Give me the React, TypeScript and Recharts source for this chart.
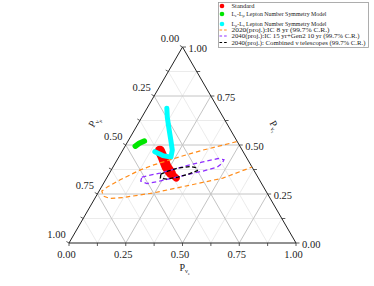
import React from 'react'
import { ScatterChart, Scatter, XAxis, YAxis, ReferenceLine, Legend } from 'recharts'

// ternary points are [P_νe, P_ντ]; P_νμ = 1 - P_νe - P_ντ
type Pt = [number, number]

const tickValues = [0, 0.25, 0.5, 0.75, 1]
const tickLabels = ['0.00', '0.25', '0.50', '0.75', '1.00']
const minorValues = [0.125, 0.375, 0.625, 0.875]

const seriesNames = [
  'Standard',
  'L_e-L_μ Lepton Number Symmetry Model',
  'L_μ-L_τ Lepton Number Symmetry Model',
  '2020(proj.):IC 8 yr (99.7% C.R.)',
  '2040(proj.):IC 15 yr+Gen2 10 yr (99.7% C.R.)',
  '2040(proj.): Combined ν telescopes (99.7% C.R.)',
]
const seriesColors = ['#ff0000', '#00e600', '#00ffff', '#ff8c1a', '#8f2fff', '#000000']

const standard: Pt[] = [[0.165, 0.471], [0.194, 0.438], [0.234, 0.39], [0.27, 0.357]]
const standardTail: Pt[] = [[0.27, 0.357], [0.307, 0.331]]
const leLmu: Pt[] = [[0.045, 0.494], [0.055, 0.509], [0.072, 0.52]]
const lmuLtau: Pt[] = [
  [0.145, 0.466], [0.19, 0.446], [0.23, 0.438], [0.218, 0.474],
  [0.186, 0.525], [0.147, 0.586], [0.112, 0.642], [0.087, 0.688],
]
const ic2020: Pt[] = [
  [0.48, 0.517], [0.428, 0.499], [0.353, 0.474], [0.268, 0.44], [0.171, 0.397],
  [0.126, 0.372], [0.063, 0.321], [0.027, 0.287], [0.012, 0.265], [0.033, 0.239],
  [0.066, 0.227], [0.121, 0.232], [0.242, 0.255], [0.385, 0.295], [0.512, 0.331],
  [0.612, 0.387],
]
const ic2040: Pt[] = [
  [0.153, 0.336], [0.222, 0.357], [0.27, 0.374], [0.322, 0.395], [0.383, 0.414],
  [0.441, 0.431], [0.47, 0.425], [0.472, 0.408], [0.459, 0.387], [0.407, 0.367],
  [0.356, 0.352], [0.299, 0.334], [0.242, 0.316], [0.192, 0.303], [0.158, 0.316],
  [0.153, 0.336],
]
const combined2040: Pt[] = [
  [0.229, 0.351], [0.252, 0.367], [0.289, 0.382], [0.337, 0.39], [0.367, 0.385],
  [0.381, 0.369], [0.355, 0.354], [0.312, 0.336], [0.268, 0.326], [0.237, 0.331],
  [0.229, 0.351],
]

const toXY = ([e, t]: Pt) => ({ x: e + t / 2, y: t })
const xy = (pts: Pt[]) => pts.map(toXY)

const labelOf = (v: number) => {
  const i = tickValues.indexOf(v)
  return i >= 0 ? tickLabels[i] : ''
}
const allTicks = [...tickValues, ...minorValues]
const bottomTicks = allTicks.map((v) => ({ ...toXY([v, 0]), label: labelOf(v) }))
const rightTicks = allTicks.map((v) => ({ ...toXY([1 - v, v]), label: labelOf(v) }))
const leftTicks = allTicks.map((v) => ({ ...toXY([0, 1 - v]), label: labelOf(v) }))

const gridSegments = (vals: number[]) =>
  vals.flatMap((c) => [
    [toXY([0, c]), toXY([1 - c, c])],
    [toXY([c, 0]), toXY([c, 1 - c])],
    [toXY([0, 1 - c]), toXY([1 - c, 0])],
  ])

const frame: Pt[] = [[0, 0], [1, 0], [0, 1], [0, 0]]

const FONT = '"Liberation Serif", "DejaVu Serif", serif'
const none = () => <g />

function renderSub(name: string, size: number) {
  const parts = name.split(/_(.)/)
  return parts.map((p, i) =>
    i % 2 === 1 ? (
      <tspan key={i} fontSize={size * 0.7} dy={1.2}>{p}</tspan>
    ) : (
      <tspan key={i} dy={i > 0 ? -1.2 : 0}>{p}</tspan>
    ),
  )
}

function LegendBox() {
  const rows = [6, 14, 24, 30, 36, 42.5]
  const widths = [23, 95, 95, 98, 128, 134]
  return (
    <svg width={374} height={50} style={{ display: 'block' }}>
      <rect x={218.5} y={2.5} width={150} height={45} fill="#fff" stroke="#999" strokeWidth={0.8} />
      {seriesNames.map((n, i) => (
        <g key={n}>
          {i < 3 ? (
            <circle cx={222} cy={rows[i]} r={2.3} fill={seriesColors[i]} />
          ) : (
            <line x1={219.5} x2={227.5} y1={rows[i]} y2={rows[i]} stroke={seriesColors[i]}
              strokeWidth={1.2} strokeDasharray="2.6 2" />
          )}
          <text x={231.5} y={rows[i] + 2} fontSize={6} fontFamily={FONT} fill="#222"
            textLength={widths[i]} lengthAdjust="spacingAndGlyphs">
            {renderSub(n, 6)}
          </text>
        </g>
      ))}
    </svg>
  )
}

const tickShape = (side: 'bottom' | 'right' | 'left') => (props: any) => {
  const { cx, cy, payload } = props
  const lab = payload.label
  if (side === 'bottom') {
    return (
      <g>
        <line x1={cx} y1={cy} x2={cx} y2={cy + 3} stroke="#333" strokeWidth={0.8} />
        {lab && <text x={cx - 2.5} y={cy + 14.5} textAnchor="middle" fontSize={10.5} fontFamily={FONT} fill="#222">{lab}</text>}
      </g>
    )
  }
  if (side === 'right') {
    return (
      <g>
        <line x1={cx} y1={cy} x2={cx + 3.5} y2={cy} stroke="#333" strokeWidth={0.8} />
        {lab && <text x={cx + 6} y={cy + 4.5} fontSize={10.5} fontFamily={FONT} fill="#222">{lab}</text>}
      </g>
    )
  }
  return (
    <g>
      <line x1={cx} y1={cy} x2={cx - 2.6} y2={cy - 1.5} stroke="#333" strokeWidth={0.8} />
      {lab && <text x={cx - 12.5} y={cy - 5.5} textAnchor="middle" fontSize={10.5} fontFamily={FONT} fill="#222">{lab}</text>}
    </g>
  )
}

const titles = [
  { ...toXY([0.5, 0]), side: 'bottom', sub: 'e' },
  { ...toXY([0, 0.5]), side: 'left', sub: 'μ' },
  { ...toXY([0.5, 0.5]), side: 'right', sub: 'τ' },
]

const titleShape = (props: any) => {
  const { cx, cy, payload } = props
  let x = cx - 3
  let y = cy + 28
  let rot = 0
  if (payload.side === 'left') { x = cx - 32; y = cy - 17; rot = -60 }
  if (payload.side === 'right') { x = cx + 30; y = cy - 22; rot = 60 }
  return (
    <text x={x} y={y} fontSize={10} fontFamily={FONT} fill="#222" transform={`rotate(${rot}, ${x}, ${y})`}>
      P<tspan fontSize={6.5} dy={2}>ν</tspan><tspan fontSize={4.5} dy={1.5}>{payload.sub}</tspan>
    </text>
  )
}

export default function App() {
  return (
    <div style={{ position: 'absolute', left: 0, top: 0, background: '#fff' }}>
      <ScatterChart width={374} height={286} margin={{ top: 47, right: 78, bottom: 43, left: 69 }}>
        <XAxis type="number" dataKey="x" domain={[0, 1]} hide />
        <YAxis type="number" dataKey="y" domain={[0, 1]} hide />
        {gridSegments(minorValues).map((s, i) => (
          <ReferenceLine key={'m' + i} segment={s} stroke="#e6e6e6" strokeWidth={0.8} />
        ))}
        {gridSegments([0.25, 0.5, 0.75]).map((s, i) => (
          <ReferenceLine key={'M' + i} segment={s} stroke="#c4c4c4" strokeWidth={1} />
        ))}
        <Scatter data={xy(frame)} shape={none} line={{ stroke: '#222', strokeWidth: 1 }} isAnimationActive={false} legendType="none" />
        <Scatter data={bottomTicks} shape={tickShape('bottom')} isAnimationActive={false} legendType="none" />
        <Scatter data={rightTicks} shape={tickShape('right')} isAnimationActive={false} legendType="none" />
        <Scatter data={leftTicks} shape={tickShape('left')} isAnimationActive={false} legendType="none" />
        <Scatter data={titles} shape={titleShape} isAnimationActive={false} legendType="none" />

        <Scatter name={seriesNames[0]} data={xy(standard)} shape={none} isAnimationActive={false}
          line={{ stroke: seriesColors[0], strokeWidth: 10, strokeLinecap: 'round', strokeLinejoin: 'round' }} />
        <Scatter data={xy(standardTail)} shape={none} isAnimationActive={false} legendType="none"
          line={{ stroke: seriesColors[0], strokeWidth: 7, strokeLinecap: 'round' }} />
        <Scatter name={seriesNames[1]} data={xy(leLmu)} shape={none} isAnimationActive={false}
          line={{ stroke: seriesColors[1], strokeWidth: 5.5, strokeLinecap: 'round', strokeLinejoin: 'round' }} />
        <Scatter name={seriesNames[2]} data={xy(lmuLtau)} shape={none} isAnimationActive={false}
          line={{ stroke: seriesColors[2], strokeWidth: 5, strokeLinecap: 'round', strokeLinejoin: 'round' }} />
        <Scatter name={seriesNames[3]} data={xy(ic2020)} shape={none} isAnimationActive={false}
          line={{ stroke: seriesColors[3], strokeWidth: 1.2, strokeDasharray: '4.5 3' }} />
        <Scatter name={seriesNames[4]} data={xy(ic2040)} shape={none} isAnimationActive={false}
          line={{ stroke: seriesColors[4], strokeWidth: 1.3, strokeDasharray: '4.5 3' }} />
        <Scatter name={seriesNames[5]} data={xy(combined2040)} shape={none} isAnimationActive={false}
          line={{ stroke: seriesColors[5], strokeWidth: 1.3, strokeDasharray: '4 2.5' }} />

        <Legend layout="horizontal" verticalAlign="middle" align="center"
          wrapperStyle={{ left: 0, top: 0, width: 374, height: 50 }} content={() => <LegendBox />} />
      </ScatterChart>
    </div>
  )
}
